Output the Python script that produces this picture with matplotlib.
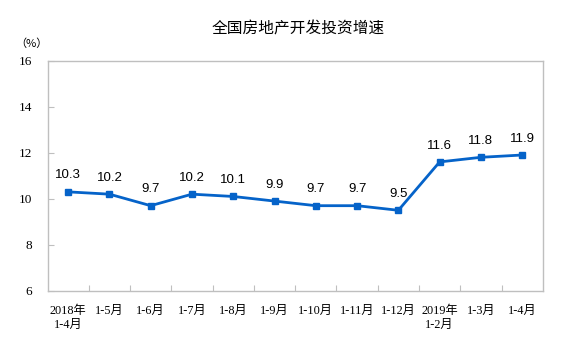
import matplotlib
matplotlib.use("Agg")
import matplotlib.pyplot as plt

plt.rcParams['font.family'] = ['Liberation Serif', 'Noto Sans CJK SC', 'DejaVu Sans']

categories = ["2018年\n1-4月", "1-5月", "1-6月", "1-7月", "1-8月", "1-9月",
              "1-10月", "1-11月", "1-12月", "2019年\n1-2月", "1-3月", "1-4月"]
growth = [10.3, 10.2, 9.7, 10.2, 10.1, 9.9, 9.7, 9.7, 9.5, 11.6, 11.8, 11.9]
yticks = [6, 8, 10, 12, 14, 16]

line_color = '#0563C9'
frame_color = '#BFBFBF'

fig = plt.figure(figsize=(5.69, 3.48), dpi=100)
ax = fig.add_axes([0.0835, 0.164, 0.8705, 0.662])

x = list(range(len(categories)))
ax.plot(x, growth, color=line_color, linewidth=2, marker='s', markersize=5,
        markerfacecolor=line_color, markeredgecolor=line_color)

for xi, v in zip(x, growth):
    ax.annotate(f"{v}", (xi, v), xytext=(0, 7.5), textcoords='offset points',
                ha='center', va='bottom', fontsize=9.5, family=['Liberation Sans'],
                color='black')

ax.set_xlim(-0.5, len(categories) - 0.5)
ax.set_ylim(6, 16)
ax.set_yticks(yticks)
ax.set_yticklabels([str(t) for t in yticks], fontsize=9.5)

# bottom ticks sit on the category boundaries
ax.set_xticks([i + 0.5 for i in range(len(categories) - 1)], minor=False)
ax.set_xticks(x, minor=True)
ax.set_xticklabels([], minor=False)
ax.set_xticklabels(categories, minor=True, fontsize=8.8, linespacing=1.25)
ax.tick_params(axis='x', which='major', direction='in', length=4, color=frame_color)
ax.tick_params(axis='x', which='minor', length=0, pad=10)
ax.tick_params(axis='y', direction='in', length=4, color=frame_color, pad=11)

for sp in ax.spines.values():
    sp.set_color(frame_color)
    sp.set_linewidth(1)

fig.text(0.524, 0.918, "全国房地产开发投资增速", ha='center', va='center',
         fontsize=11.3, family=['Noto Sans CJK SC'])
fig.text(0.055, 0.876, "（%）", ha='center', va='center', fontsize=8,
         family=['Noto Sans CJK SC'])

fig.savefig("out.png", dpi=100, facecolor='white')
